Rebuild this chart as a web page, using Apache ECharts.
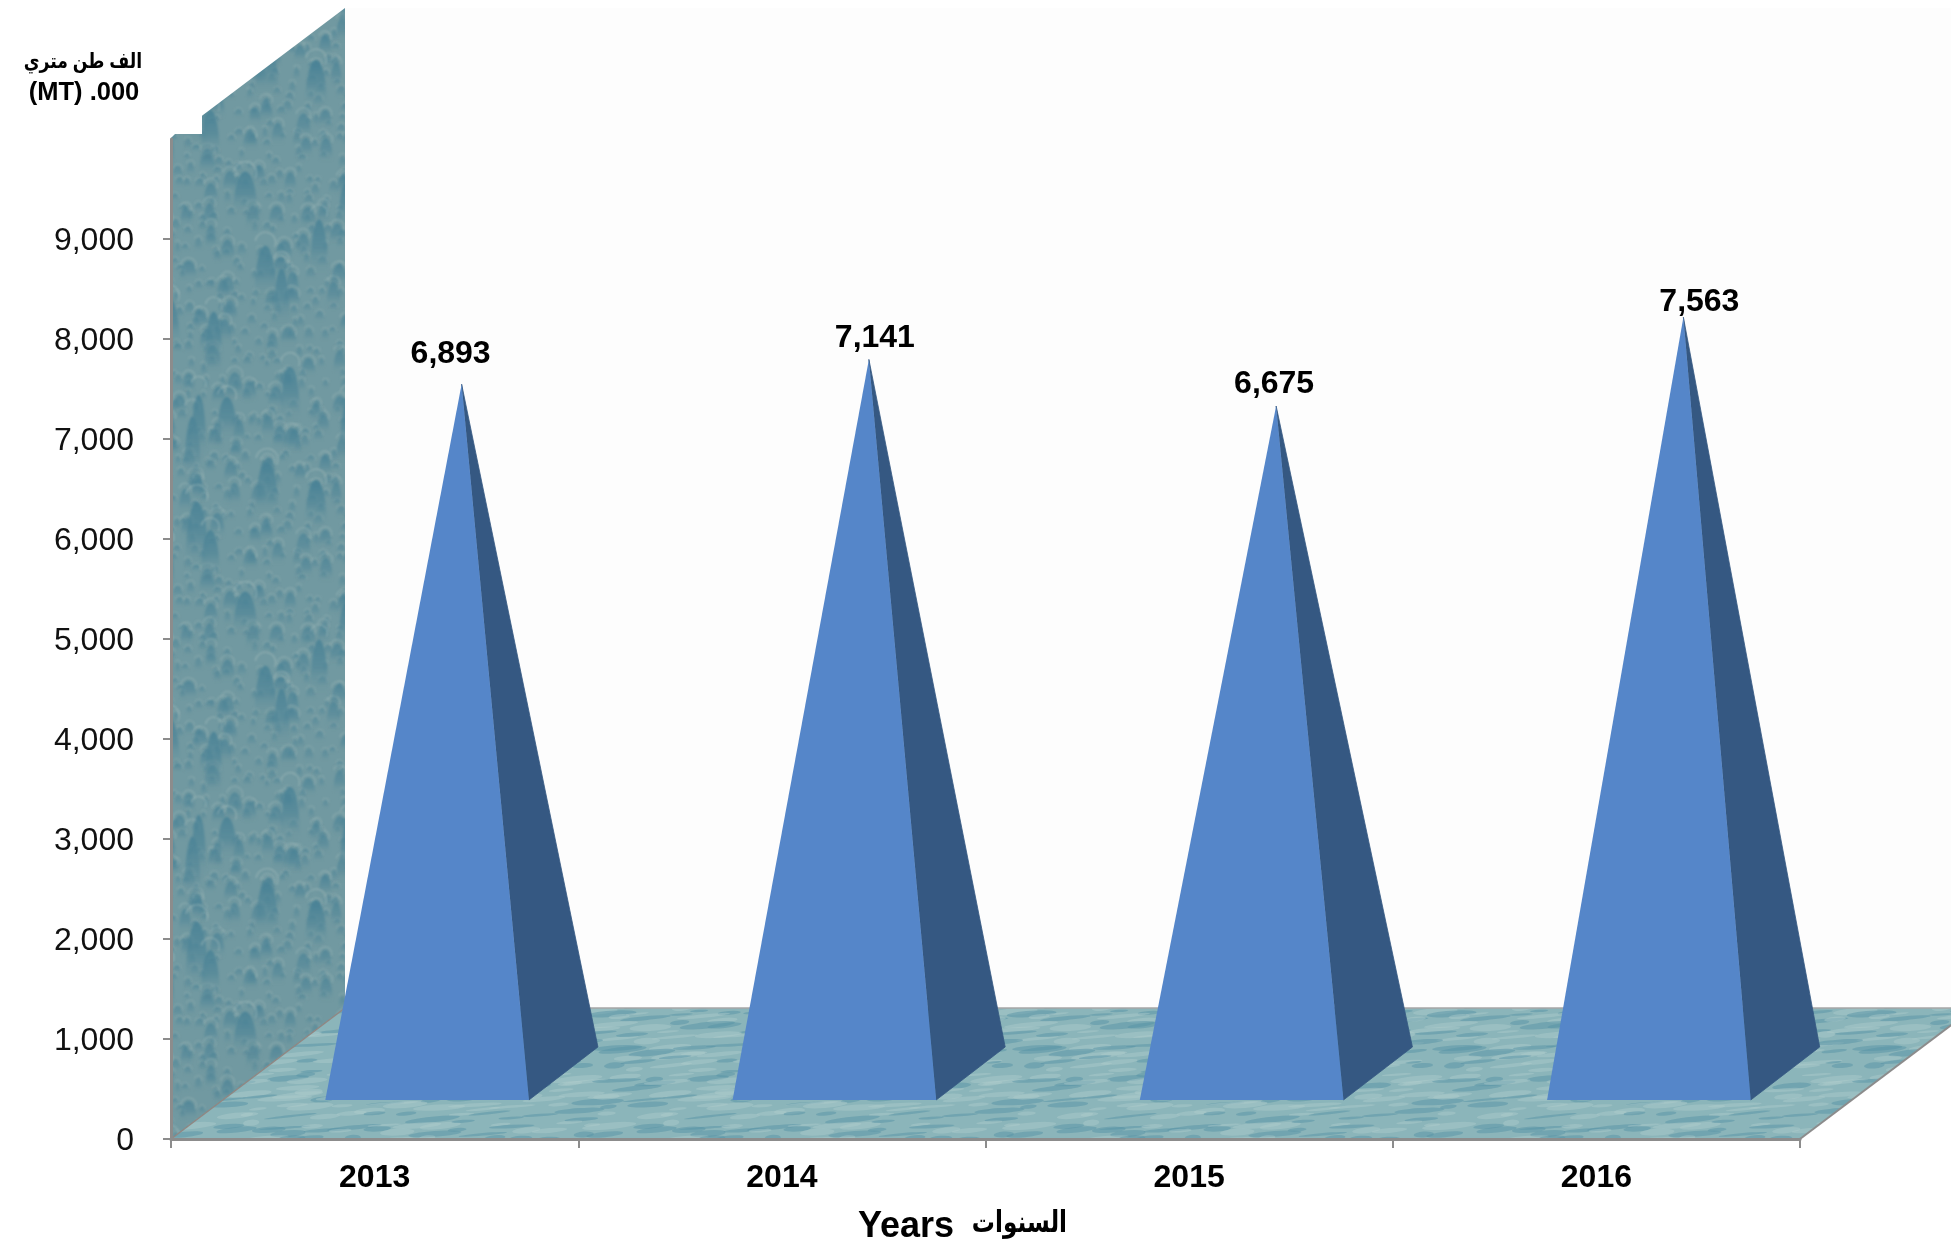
<!DOCTYPE html>
<html>
<head>
<meta charset="utf-8">
<style>html,body{margin:0;padding:0;background:#fff}#c{width:1951px;height:1248px}</style>
<script src="https://cdn.jsdelivr.net/npm/echarts@6/dist/echarts.min.js"></script>
</head>
<body>
<div id="c"></div>
<script>
const categories = ['2013', '2014', '2015', '2016'];
const tonnage = [6893, 7141, 6675, 7563];
const valueTicks = [0, 1000, 2000, 3000, 4000, 5000, 6000, 7000, 8000, 9000];
const labelNudgeX = [-11, 6, -2, 16];
const labelNudgeY = [-30, -21, -22, -15];
const unitArabic = 'الف طن متري';
const unitLatin = '(MT) .000';
const axisTitleLatin = 'Years';
const axisTitleArabic = 'السنوات';

const FONT = '"Liberation Sans","DejaVu Sans",Arial,sans-serif';
const DEPTH_X = 174, DEPTH_Y = 131;      // floor depth on screen
const PYR_X = 69, PYR_Y = 53;            // pyramid base depth on screen
const BAND_RATIO = 0.5;

function lcg(seed) { let s = seed; for (let i = 0; i < 9; i++) s = (s * 48271) % 2147483647;
  return () => (s = (s * 48271) % 2147483647) / 2147483647; }

function wrapDraw(size, x, y, r, fn) {
  for (const dx of [-size, 0, size]) for (const dy of [-size, 0, size]) {
    if (x + dx + r < 0 || x + dx - r > size || y + dy + r < 0 || y + dy - r > size) continue;
    fn(x + dx, y + dy);
  }
}

function dropletTexture() {
  const size = 420, cv = document.createElement('canvas');
  cv.width = cv.height = size;
  const g = cv.getContext('2d'), rnd = lcg(4711);
  g.fillStyle = '#7199a1'; g.fillRect(0, 0, size, size);
  g.filter = 'blur(0.8px)';
  const drop = (x, y, w, h, a) => {
    const gr = g.createLinearGradient(0, y - h / 2, 0, y + h / 2);
    gr.addColorStop(0, 'rgba(66,126,148,' + a + ')');
    gr.addColorStop(0.6, 'rgba(80,134,152,' + a * 0.75 + ')');
    gr.addColorStop(1, 'rgba(113,153,161,0)');
    g.fillStyle = gr;
    g.beginPath();
    g.moveTo(x - w / 2, y + h / 2);
    g.bezierCurveTo(x - w / 2, y - h / 2 - w * 0.25, x + w / 2, y - h / 2 - w * 0.25, x + w / 2, y + h / 2);
    g.closePath(); g.fill();
    g.strokeStyle = 'rgba(160,186,186,' + a * 0.7 + ')'; g.lineWidth = 1.3;
    g.beginPath();
    g.arc(x, y - h / 2 + w * 0.42, w * 0.48, -Math.PI * 0.95, Math.PI * 0.15);
    g.stroke();
  };
  const scatter = (cell, wMin, wVar, hMin, hVar, a) => {
    for (let cy = 0; cy < size; cy += cell) for (let cx = 0; cx < size; cx += cell) {
      const x = cx + rnd() * cell, y = cy + rnd() * cell;
      const w = wMin + rnd() * wVar, h = hMin + rnd() * hVar;
      wrapDraw(size, x, y, h + w, (p, q) => drop(p, q, w, h, a));
    }
  };
  scatter(15, 5, 5, 7, 8, 0.5);
  scatter(32, 11, 6, 18, 14, 0.7);
  scatter(70, 15, 9, 46, 36, 0.9);
  return cv;
}

function waterTexture() {
  const size = 420, cv = document.createElement('canvas');
  cv.width = cv.height = size;
  const g = cv.getContext('2d'), rnd = lcg(1913);
  g.fillStyle = '#8bb5ba'; g.fillRect(0, 0, size, size);
  g.filter = 'blur(0.7px)';
  const cellW = 30, cellH = 8;
  for (let cy = 0; cy < size; cy += cellH) for (let cx = 0; cx < size; cx += cellW) {
    const x = cx + rnd() * cellW, y = cy + rnd() * cellH, w = 8 + rnd() * 20, h = 1 + rnd() * 2.4;
    const dark = rnd() < 0.5;
    g.fillStyle = dark ? 'rgba(88,148,165,0.5)' : 'rgba(176,206,206,0.42)';
    const tilt = -0.05 - rnd() * 0.06;
    wrapDraw(size, x, y, 40, (a, b) => {
      g.beginPath(); g.ellipse(a, b, w, h, tilt, 0, Math.PI * 2); g.fill();
    });
  }
  return cv;
}

const wallFill = { image: dropletTexture(), repeat: 'repeat' };
const floorFill = { image: waterTexture(), repeat: 'repeat' };

function renderBackdrop(params, api) {
  const c = params.coordSys;
  const x0 = c.x, y0 = c.y + c.height, top = c.y, x1 = c.x + c.width;
  const backX = x0 + DEPTH_X, backY = y0 - DEPTH_Y, backTop = top - DEPTH_Y;
  const notchX = x0 + 31, notchY = top - 5;
  return {
    type: 'group', children: [
      { type: 'rect', shape: { x: backX, y: backTop, width: 1951 - backX, height: backY - backTop },
        style: { fill: '#fdfdfd' } },
      { type: 'polygon', shape: { points: [
          [x0, y0], [backX, backY], [backX, backTop], [notchX, top - 31 * DEPTH_Y / DEPTH_X],
          [notchX, notchY], [x0 + 4, notchY], [x0, top - 1]] },
        style: { fill: wallFill } },
      { type: 'polygon', shape: { points: [[x0, y0], [x1, y0], [x1 + DEPTH_X, backY], [backX, backY]] },
        style: { fill: floorFill } },
      { type: 'polyline', shape: { points: [[x0, y0], [backX, backY]] },
        style: { stroke: '#8f8682', lineWidth: 1.5, fill: null } },
      { type: 'polyline', shape: { points: [[backX, backY], [x1 + DEPTH_X, backY]] },
        style: { stroke: '#a6a6a6', lineWidth: 1.5, fill: null } },
      { type: 'polyline', shape: { points: [[x1, y0], [x1 + DEPTH_X, backY]] },
        style: { stroke: '#8c8c8c', lineWidth: 2, fill: null } }
    ]
  };
}

function renderPyramid(params, api) {
  const i = api.value(0), v = api.value(1);
  const foot = api.coord([i, 0]), head = api.coord([i, v]);
  const band = api.size([1, 0])[0], half = band * BAND_RATIO / 2;
  const cx = foot[0] + DEPTH_X / 2, cy = foot[1] - DEPTH_Y / 2;
  const apex = [cx, cy - (foot[1] - head[1])];
  const fy = cy + PYR_Y / 2, fxc = cx - PYR_X / 2;
  const fl = [fxc - half, fy], fr = [fxc + half, fy], br = [fxc + half + PYR_X, fy - PYR_Y];
  return {
    type: 'group', children: [
      { type: 'polygon', shape: { points: [fr, br, apex] }, style: { fill: '#355882', stroke: '#355882', lineWidth: 0.8 } },
      { type: 'polygon', shape: { points: [fl, fr, apex] }, style: { fill: '#5586c9' } },
      { type: 'text', style: {
          text: v.toLocaleString('en-US'),
          x: apex[0] + labelNudgeX[i], y: apex[1] + labelNudgeY[i],
          align: 'center', verticalAlign: 'middle',
          font: 'bold 32px ' + FONT, fill: '#000' } }
    ]
  };
}

const chart = echarts.init(document.getElementById('c'), null, { renderer: 'canvas', width: 1951, height: 1248 });
chart.setOption({
  animation: false,
  backgroundColor: '#fff',
  grid: { left: 171, top: 139, width: 1629, height: 1000, containLabel: false },
  xAxis: {
    type: 'category', data: categories, z: 10,
    axisLine: { lineStyle: { color: '#8c8c8c', width: 3 } },
    axisTick: { show: true, alignWithLabel: false, length: 9, lineStyle: { color: '#8c8c8c', width: 2 } },
    axisLabel: { fontFamily: FONT, fontWeight: 'bold', fontSize: 32, color: '#000', margin: 21, lineHeight: 36 },
    splitLine: { show: false }
  },
  yAxis: {
    type: 'value', min: 0, max: 10000, interval: 1000, z: 10,
    axisLine: { show: true, lineStyle: { color: '#8c8c8c', width: 3 } },
    axisTick: { show: true, length: 8, customValues: valueTicks, lineStyle: { color: '#8c8c8c', width: 2 } },
    axisLabel: { margin: 37, customValues: valueTicks,
      formatter: v => '{t|' + v.toLocaleString('en-US') + '}',
      rich: { t: { fontFamily: FONT, fontSize: 32, color: '#111', padding: [5, 0, 0, 0] } } },
    splitLine: { show: false }
  },
  graphic: [
    { type: 'text', x: 83, y: 62, scaleX: 0.82, style: { text: unitArabic, align: 'center', verticalAlign: 'middle',
        font: 'bold 21px ' + FONT, fill: '#000' } },
    { type: 'text', x: 84, y: 93, style: { text: unitLatin, align: 'center', verticalAlign: 'middle',
        font: 'bold 25.5px ' + FONT, fill: '#000' } },
    { type: 'text', x: 858, y: 1227, style: { text: axisTitleLatin, align: 'left', verticalAlign: 'middle',
        font: 'bold 36px ' + FONT, fill: '#000' } },
    { type: 'text', x: 1067, y: 1224, scaleX: 0.77, style: { text: axisTitleArabic, align: 'right', verticalAlign: 'middle',
        font: 'bold 30px ' + FONT, fill: '#000' } }
  ],
  series: [
    { type: 'custom', coordinateSystem: 'cartesian2d', renderItem: renderBackdrop, data: [[0, 0]], silent: true, z: 1,
      encode: { x: 0, y: 1 } },
    { type: 'custom', coordinateSystem: 'cartesian2d', renderItem: renderPyramid, z: 2,
      data: tonnage.map((v, i) => [i, v]), encode: { x: 0, y: 1 } }
  ]
});
</script>
</body>
</html>
